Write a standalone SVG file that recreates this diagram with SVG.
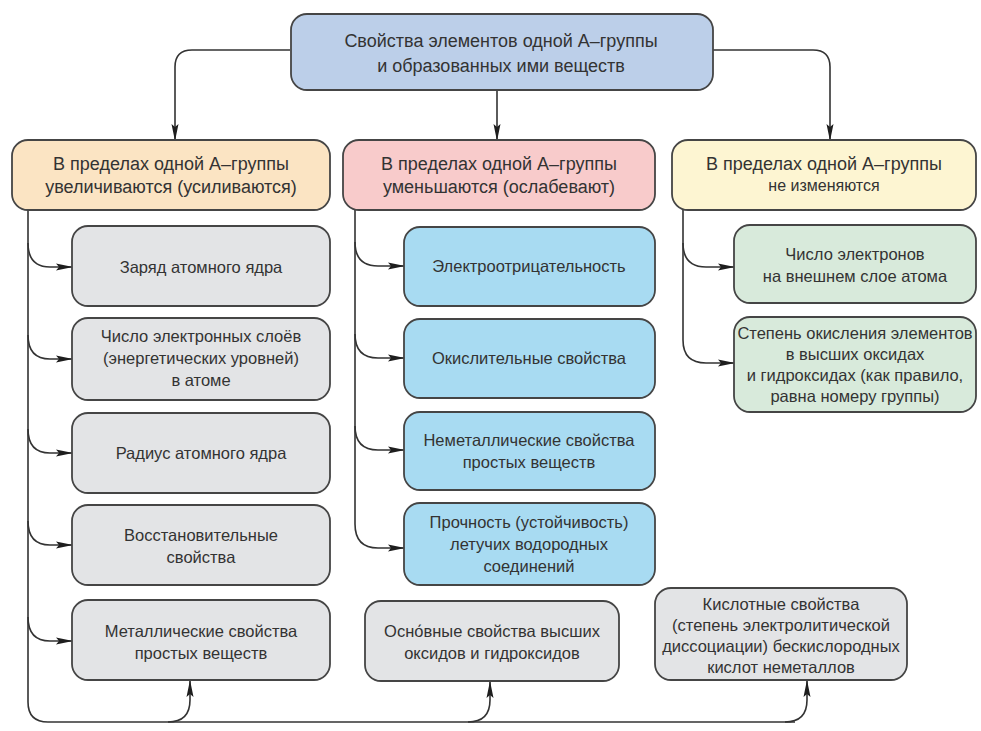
<svg xmlns="http://www.w3.org/2000/svg" width="981" height="731" viewBox="0 0 981 731">
<defs>
<marker id="ah" markerWidth="17" markerHeight="9" refX="16" refY="4.5" orient="auto" markerUnits="userSpaceOnUse">
<path d="M0,1 L17,4.5 L0,8 L3,4.5 Z" fill="#1e1e1e"/>
</marker>
<style>
.bx{stroke:#454545;stroke-width:1.8}
.top{fill:#bccfe9}
.hl{fill:#fbe4c3}
.hm{fill:#f8cbcb}
.hr{fill:#fdf5d2}
.g{fill:#e3e4e6}
.b{fill:#a8dbf2}
.gr{fill:#d8eadb}
text{font-family:"Liberation Sans",Arial,sans-serif;font-size:16.5px;fill:#333;text-anchor:middle}
.h text{font-size:18px}
.c{fill:none;stroke:#333;stroke-width:1.6}
</style>
</defs>
<rect width="981" height="731" fill="#fff"/>

<g id="connectors" class="c">
<path d="M290,50 L192,50 Q175,50 175,67 L175,140" marker-end="url(#ah)"/>
<path d="M497,90 L497,140" marker-end="url(#ah)"/>
<path d="M713,50 L813,50 Q830,50 830,67 L830,140" marker-end="url(#ah)"/>
<path d="M28,210 L28,702 Q28,722 48,722 L795,722"/>
<path d="M28,243 Q28,267 50,267 L72,267" marker-end="url(#ah)"/>
<path d="M28,335 Q28,359 50,359 L72,359" marker-end="url(#ah)"/>
<path d="M28,429 Q28,453 50,453 L72,453" marker-end="url(#ah)"/>
<path d="M28,521 Q28,545 50,545 L72,545" marker-end="url(#ah)"/>
<path d="M28,617 Q28,641 50,641 L72,641" marker-end="url(#ah)"/>
<path d="M168,722 Q190,722 190,700 L190,681" marker-end="url(#ah)"/>
<path d="M468,722 Q490,722 490,700 L490,682" marker-end="url(#ah)"/>
<path d="M785,722 Q807,722 807,700 L807,681" marker-end="url(#ah)"/>
<path d="M355,210 L355,524 Q355,548 378,548 L404,548" marker-end="url(#ah)"/>
<path d="M355,242 Q355,266 378,266 L404,266" marker-end="url(#ah)"/>
<path d="M355,334 Q355,358 378,358 L404,358" marker-end="url(#ah)"/>
<path d="M355,426 Q355,450 378,450 L404,450" marker-end="url(#ah)"/>
<path d="M683,210 L683,340 Q683,363 706,363 L734,363" marker-end="url(#ah)"/>
<path d="M683,243 Q683,267 706,267 L734,267" marker-end="url(#ah)"/>
</g>

<g id="top" class="h">
<rect class="bx top" x="291" y="14" width="422" height="76" rx="16"/>
<text x="501" y="47">Свойства элементов одной А–группы</text>
<text x="501" y="72">и образованных ими веществ</text>
</g>

<g id="head-left" class="h">
<rect class="bx hl" x="12" y="140" width="318" height="70" rx="16"/>
<text x="171" y="170">В пределах одной А–группы</text>
<text x="171" y="193">увеличиваются (усиливаются)</text>
</g>
<g id="head-mid" class="h">
<rect class="bx hm" x="343" y="140" width="312" height="70" rx="16"/>
<text x="499" y="170">В пределах одной А–группы</text>
<text x="499" y="193">уменьшаются (ослабевают)</text>
</g>
<g id="head-right" class="h">
<rect class="bx hr" x="672" y="140" width="304" height="70" rx="16"/>
<text x="824" y="170">В пределах одной А–группы</text>
<text x="824" y="191" style="font-size:16px">не изменяются</text>
</g>

<g id="l1"><rect class="bx g" x="72" y="226" width="258" height="80" rx="16"/>
<text x="201" y="273">Заряд атомного ядра</text></g>
<g id="l2"><rect class="bx g" x="72" y="318" width="258" height="82" rx="16"/>
<text x="201" y="342">Число электронных слоёв</text>
<text x="201" y="364">(энергетических уровней)</text>
<text x="201" y="386">в атоме</text></g>
<g id="l3"><rect class="bx g" x="72" y="413" width="258" height="80" rx="16"/>
<text x="201" y="459">Радиус атомного ядра</text></g>
<g id="l4"><rect class="bx g" x="72" y="505" width="258" height="80" rx="16"/>
<text x="201" y="541">Восстановительные</text>
<text x="201" y="563">свойства</text></g>
<g id="l5"><rect class="bx g" x="72" y="600" width="258" height="80" rx="16"/>
<text x="201" y="637">Металлические свойства</text>
<text x="201" y="659">простых веществ</text></g>

<g id="m1"><rect class="bx b" x="404" y="227" width="251" height="79" rx="16"/>
<text x="529" y="272">Электроотрицательность</text></g>
<g id="m2"><rect class="bx b" x="404" y="319" width="251" height="79" rx="16"/>
<text x="529" y="364">Окислительные свойства</text></g>
<g id="m3"><rect class="bx b" x="404" y="412" width="251" height="78" rx="16"/>
<text x="529" y="446">Неметаллические свойства</text>
<text x="529" y="468">простых веществ</text></g>
<g id="m4"><rect class="bx b" x="404" y="503" width="251" height="82" rx="16"/>
<text x="529" y="528">Прочность (устойчивость)</text>
<text x="529" y="550">летучих водородных</text>
<text x="529" y="572">соединений</text></g>

<g id="r1"><rect class="bx gr" x="734" y="225" width="242" height="78" rx="16"/>
<text x="855" y="260">Число электронов</text>
<text x="855" y="282">на внешнем слое атома</text></g>
<g id="r2"><rect class="bx gr" x="734" y="317" width="242" height="95" rx="16"/>
<text x="855" y="339">Степень окисления элементов</text>
<text x="855" y="360">в высших оксидах</text>
<text x="855" y="381">и гидроксидах (как правило,</text>
<text x="855" y="402">равна номеру группы)</text></g>

<g id="b1"><rect class="bx g" x="365" y="601" width="254" height="80" rx="16"/>
<text x="492" y="637">Осно́вные свойства высших</text>
<text x="492" y="659">оксидов и гидроксидов</text></g>
<g id="b2"><rect class="bx g" x="655" y="588" width="252" height="92" rx="16"/>
<text x="781" y="610">Кислотные свойства</text>
<text x="781" y="631">(степень электролитической</text>
<text x="781" y="652">диссоциации) бескислородных</text>
<text x="781" y="673">кислот неметаллов</text></g>
</svg>
